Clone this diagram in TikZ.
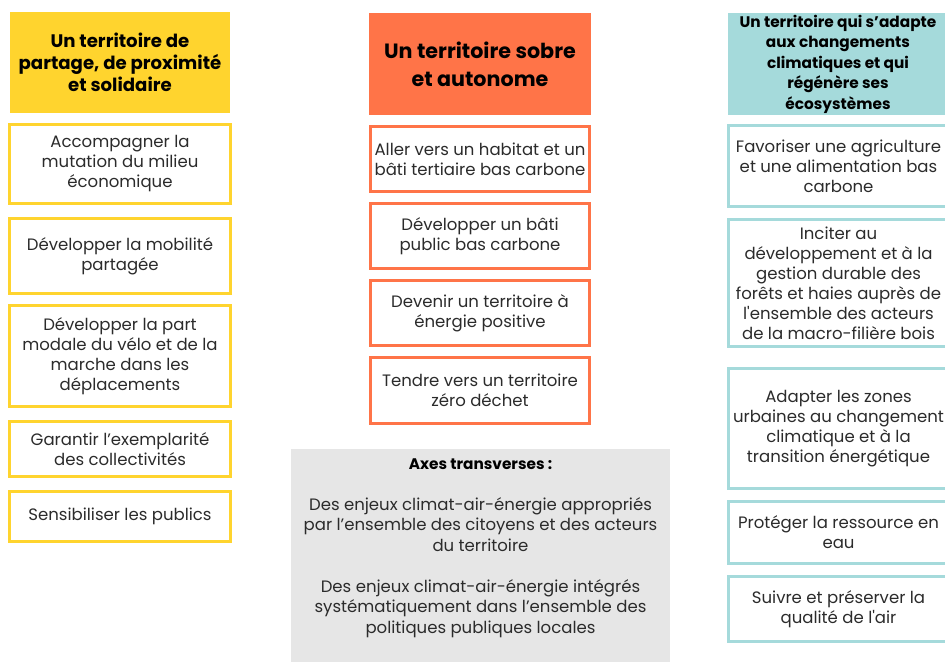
\documentclass[tikz,border=0pt]{standalone}
\usepackage{fontspec}
\setmainfont{Poppins}
\definecolor{cyel}{HTML}{FFD42E}
\definecolor{cora}{HTML}{FF7448}
\definecolor{ctea}{HTML}{A5DADB}
\definecolor{cgry}{HTML}{E6E6E6}
\definecolor{ctxt}{HTML}{2B2B2B}
\tikzset{
  hdrbox/.style={rectangle, inner sep=0pt, align=center, text=black, font=\bfseries},
  itembox/.style={rectangle, inner sep=0pt, line width=2.25pt, fill=white, align=center, text=ctxt,
     font=\fontsize{12.4}{15}\selectfont},
  ybox/.style={itembox, draw=cyel, minimum width=165.75pt},
  obox/.style={itembox, draw=cora, minimum width=164.25pt},
  tbox/.style={itembox, draw=ctea, minimum width=165.75pt},
}
\begin{document}
\begin{tikzpicture}[x=0.75pt,y=-0.75pt]
\useasboundingbox (0,0) rectangle (945,661);
\fill[white] (0,0) rectangle (945,661);
% left column
\node[hdrbox, fill=cyel, minimum width=165pt, minimum height=75.75pt, font=\bfseries\fontsize{13.6}{16.5}\selectfont] (hY) at (120,62.5) {Un territoire de\\partage, de proximité\\et solidaire};
\node[ybox, minimum height=59.25pt] (y1) at (120,164) {Accompagner la\\mutation du milieu\\économique};
\node[ybox, minimum height=56.25pt] (y2) at (120,256) {Développer la mobilité\\partagée};
\node[ybox, minimum height=75.75pt] (y3) at (120,356) {Développer la part\\modale du vélo et de la\\marche dans les\\déplacements};
\node[ybox, minimum height=41.25pt] (y4) at (120,449) {Garantir l’exemplarité\\des collectivités};
\node[ybox, minimum height=37.5pt] (y5) at (120,516.5) {Sensibiliser les publics};
% middle column
\node[hdrbox, fill=cora, minimum width=166.5pt, minimum height=76.5pt, font=\bfseries\fontsize{15.5}{21}\selectfont] (hO) at (480,64) {Un territoire sobre\\et autonome};
\node[obox, minimum height=48.75pt] (o1) at (480,159) {Aller vers un habitat et un\\bâti tertiaire bas carbone};
\node[obox, minimum height=48.75pt] (o2) at (480,236) {Développer un bâti\\public bas carbone};
\node[obox, minimum height=48.75pt] (o3) at (480,313) {Devenir un territoire à\\énergie positive};
\node[obox, minimum height=49.5pt] (o4) at (480,390.5) {Tendre vers un territoire\\zéro déchet};
\node[rectangle, fill=cgry, inner sep=0pt, minimum width=284.25pt, minimum height=159.75pt] (grey) at (480.5,555.5) {};
\node[align=center, text=ctxt, font=\fontsize{12.4}{15.4}\selectfont, inner sep=0pt] (greytext) at (480.5,548)
 {{\bfseries\fontsize{11.5}{15.4}\selectfont\color{black}Axes transverses :}\\[15.4pt]
  Des enjeux climat-air-énergie appropriés\\par l’ensemble des citoyens et des acteurs\\du territoire\\[15.4pt]
  Des enjeux climat-air-énergie intégrés\\systématiquement dans l’ensemble des\\politiques publiques locales};
% right column
\node[hdrbox, fill=ctea, minimum width=165pt, minimum height=76.5pt, font=\bfseries\fontsize{11.5}{15.4}\selectfont] (hT) at (838,64) {Un territoire qui s’adapte\\aux changements\\climatiques et qui\\régénère ses\\écosystèmes};
\node[tbox, minimum height=60.75pt] (t1) at (838.5,166) {Favoriser une agriculture\\et une alimentation bas\\carbone};
\node[tbox, minimum height=95.25pt] (t2) at (838.5,283) {Inciter au\\développement et à la\\gestion durable des\\forêts et haies auprès de\\l\textquotesingle ensemble des acteurs\\de la macro-filière bois};
\node[tbox, minimum height=90pt] (t3) at (838.5,428.5) {Adapter les zones\\urbaines au changement\\climatique et à la\\transition énergétique};
\node[tbox, minimum height=46.5pt] (t4) at (838.5,532.5) {Protéger la ressource en\\eau};
\node[tbox, minimum height=48.75pt] (t5) at (838.5,609) {Suivre et préserver la\\qualité de l\textquotesingle air};
\end{tikzpicture}
\end{document}
